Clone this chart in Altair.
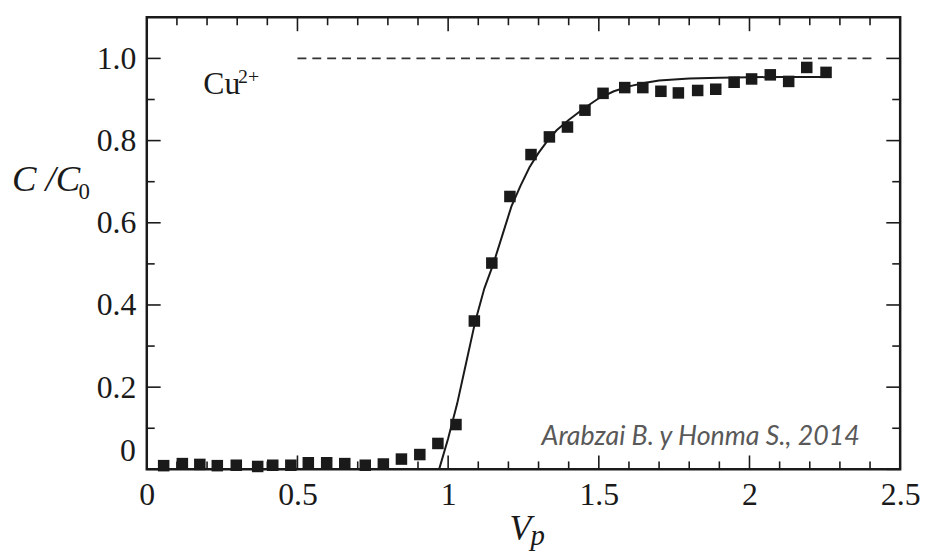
import altair as alt
import pandas as pd

# ---- data ----
vp_points = [0.056, 0.118, 0.176, 0.234, 0.297, 0.368, 0.418, 0.478, 0.536, 0.597,
             0.657, 0.725, 0.785, 0.845, 0.906, 0.966, 1.026, 1.087, 1.145, 1.205,
             1.275, 1.336, 1.396, 1.454, 1.514, 1.586, 1.646, 1.706, 1.764, 1.828,
             1.888, 1.949, 2.007, 2.069, 2.130, 2.190, 2.254]
c_points = [0.009, 0.014, 0.012, 0.009, 0.010, 0.007, 0.010, 0.010, 0.016, 0.016,
            0.014, 0.010, 0.013, 0.025, 0.036, 0.063, 0.109, 0.361, 0.502, 0.664,
            0.766, 0.809, 0.833, 0.874, 0.915, 0.929, 0.929, 0.920, 0.916, 0.922,
            0.925, 0.942, 0.950, 0.960, 0.944, 0.978, 0.966]

vp_curve = [0.97, 1.00, 1.03, 1.06, 1.09, 1.12, 1.15, 1.18, 1.21, 1.24, 1.27, 1.30,
            1.33, 1.36, 1.40, 1.45, 1.50, 1.55, 1.60, 1.65, 1.70, 1.80, 1.90, 2.00,
            2.10, 2.20, 2.26]
c_curve = [0.0, 0.075, 0.16, 0.26, 0.36, 0.44, 0.50, 0.57, 0.64, 0.69, 0.735, 0.77,
           0.80, 0.825, 0.85, 0.878, 0.903, 0.92, 0.932, 0.94, 0.946, 0.951, 0.953,
           0.954, 0.955, 0.955, 0.955]

dash_x_start = [0.5]
dash_x_end = [2.41]
dash_y = [1.0]

x_major = [0, 0.5, 1.0, 1.5, 2.0, 2.5]
x_minor = [0.1, 0.2, 0.3, 0.4, 0.6, 0.7, 0.8, 0.9, 1.1, 1.2, 1.3, 1.4,
           1.6, 1.7, 1.8, 1.9, 2.1, 2.2, 2.3, 2.4]
y_major = [0, 0.2, 0.4, 0.6, 0.8, 1.0]
y_minor = [0.1, 0.3, 0.5, 0.7, 0.9]
y_labels = [0.2, 0.4, 0.6, 0.8, 1.0]

W, H = 760, 456
INK = "#1a1a1a"
SERIF = "Liberation Serif"

xs = alt.Scale(domain=[0, 2.5], nice=False, zero=False)
ys = alt.Scale(domain=[0, 1.1], nice=False, zero=False)

x_axis = alt.Axis(values=x_major, format="~g", labelFont=SERIF, labelFontSize=32,
                  labelColor=INK, ticks=False, domain=False, grid=False,
                  labelPadding=10, labelFlush=False, labelOverlap=False, title=None)
y_axis = alt.Axis(values=y_labels, labelExpr="format(datum.value, '.1f')",
                  labelFont=SERIF, labelFontSize=32, labelColor=INK, ticks=False,
                  domain=False, grid=False, labelPadding=11, labelOverlap=False,
                  title=None)


def X(field):
    return alt.X(field, scale=xs, axis=x_axis)


def Y(field):
    return alt.Y(field, scale=ys, axis=y_axis)


pts = pd.DataFrame({"vp": vp_points, "c": c_points})
crv = pd.DataFrame({"vp": vp_curve, "c": c_curve})

curve = alt.Chart(crv).mark_line(color=INK, strokeWidth=2).encode(
    x=X("vp:Q"), y=Y("c:Q"))
points = alt.Chart(pts).mark_point(shape="square", filled=True, size=135,
                                   color=INK, opacity=1).encode(
    x=X("vp:Q"), y=Y("c:Q"))
dash = alt.Chart(pd.DataFrame({"x1": dash_x_start, "x2": dash_x_end, "y": dash_y})).mark_rule(
    color="#333333", strokeWidth=1.6, strokeDash=[9, 6]).encode(
    x=X("x1:Q"), x2="x2:Q", y=Y("y:Q"))


def xticks(vals, length):
    d = pd.DataFrame({"v": vals})
    bot = alt.Chart(d).mark_rule(color=INK, strokeWidth=1.6).encode(
        x=X("v:Q"), y=alt.value(H), y2=alt.value(H - length))
    top = alt.Chart(d).mark_rule(color=INK, strokeWidth=1.6).encode(
        x=X("v:Q"), y=alt.value(0), y2=alt.value(length))
    return [bot, top]


def yticks(vals, length):
    d = pd.DataFrame({"v": vals})
    left = alt.Chart(d).mark_rule(color=INK, strokeWidth=1.6).encode(
        y=Y("v:Q"), x=alt.value(0), x2=alt.value(length))
    right = alt.Chart(d).mark_rule(color=INK, strokeWidth=1.6).encode(
        y=Y("v:Q"), x=alt.value(W), x2=alt.value(W - length))
    return [left, right]


tick_layers = xticks(x_major, 14) + xticks(x_minor, 8) + yticks(y_major, 14) + yticks(y_minor, 8)

# zero label on y axis (raised in the original)
zero_lbl = alt.Chart(pd.DataFrame({"t": ["0"]})).mark_text(
    font=SERIF, fontSize=32, color=INK, align="right", baseline="middle").encode(
    x=alt.value(-11), y=alt.value(H - 18), text="t:N")

# annotations
cu = alt.Chart(pd.DataFrame({"x": [0.1875], "y": [0.913], "t": ["Cu"]})).mark_text(
    font=SERIF, fontSize=32, color=INK, align="left", baseline="alphabetic").encode(
    x=X("x:Q"), y=Y("y:Q"), text="t:N")
cu_sup = alt.Chart(pd.DataFrame({"x": [0.303], "y": [0.94], "t": ["2+"]})).mark_text(
    font=SERIF, fontSize=20, color=INK, align="left", baseline="alphabetic").encode(
    x=X("x:Q"), y=Y("y:Q"), text="t:N")
credit = alt.Chart(pd.DataFrame({"x": [1.31], "y": [0.059],
                                 "t": ["Arabzai B. y Honma S., 2014"]})).mark_text(
    font="Lato", fontSize=27, fontStyle="italic", color="#595959", align="left",
    baseline="alphabetic").encode(
    x=X("x:Q"), y=Y("y:Q"), text="t:N")

# axis titles (with subscripts)
ytitle = alt.Chart(pd.DataFrame({"t": ["C /C"]})).mark_text(
    font=SERIF, fontSize=37, fontStyle="italic", color=INK, align="left",
    baseline="alphabetic").encode(x=alt.value(-136), y=alt.value(175), text="t:N")
ytitle_sub = alt.Chart(pd.DataFrame({"t": ["0"]})).mark_text(
    font=SERIF, fontSize=23, color=INK, align="left",
    baseline="alphabetic").encode(x=alt.value(-69), y=alt.value(183), text="t:N")
xtitle = alt.Chart(pd.DataFrame({"t": ["V"]})).mark_text(
    font=SERIF, fontSize=36, fontStyle="italic", color=INK, align="left",
    baseline="alphabetic").encode(x=alt.value(366), y=alt.value(527), text="t:N")
xtitle_sub = alt.Chart(pd.DataFrame({"t": ["p"]})).mark_text(
    font=SERIF, fontSize=29, fontStyle="italic", color=INK, align="left",
    baseline="alphabetic").encode(x=alt.value(387), y=alt.value(532), text="t:N")

chart = alt.layer(curve, points, dash, *tick_layers, zero_lbl, cu, cu_sup, credit,
                  ytitle, ytitle_sub, xtitle, xtitle_sub).properties(
    width=W, height=H,
    autosize=alt.AutoSizeParams(type="none"),
    padding={"left": 140, "top": 7, "right": 20, "bottom": 83},
    background="white",
).configure_view(stroke=INK, strokeWidth=2.5)

chart.save("out.html", embed_options={"renderer": "svg", "actions": False})
